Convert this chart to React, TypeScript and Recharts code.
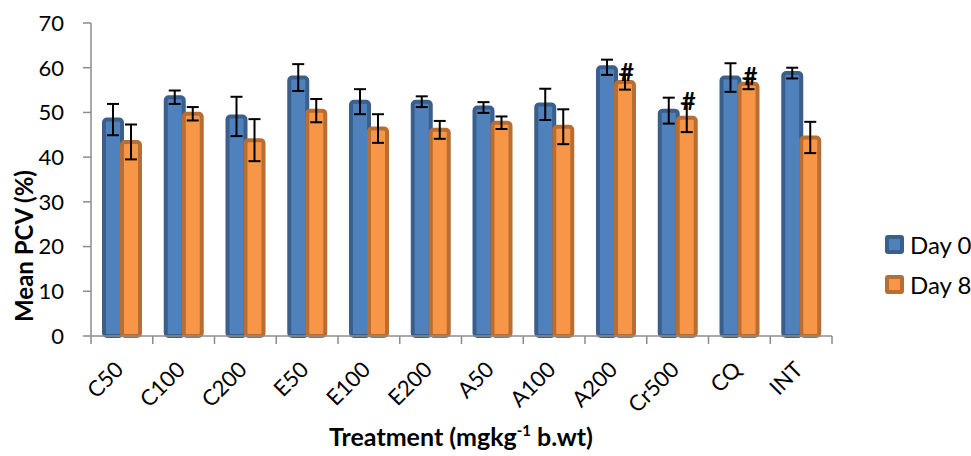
import React from "react";
import { BarChart, Bar, XAxis, YAxis, ErrorBar, Legend, LabelList, Label } from "recharts";

// treatments on the x axis
const treatments = ["C50", "C100", "C200", "E50", "E100", "E200", "A50", "A100", "A200", "Cr500", "CQ", "INT"];

// mean PCV (%) per group
const day0 = [48.4, 53.4, 49.1, 57.8, 52.4, 52.4, 51.1, 51.8, 60.1, 50.4, 57.8, 58.8];
const day0Err = [3.5, 1.5, 4.4, 3.0, 2.8, 1.2, 1.2, 3.5, 1.7, 2.9, 3.2, 1.2];
const day8 = [43.4, 49.7, 43.8, 50.4, 46.4, 46.1, 47.7, 46.8, 56.8, 48.8, 56.4, 44.4];
const day8Err = [3.9, 1.5, 4.7, 2.6, 3.2, 2.0, 1.4, 3.9, 1.7, 3.2, 1.2, 3.5];
const day8Mark = ["", "", "", "", "", "", "", "", "#", "#", "#", ""];

const yTicks = [0, 10, 20, 30, 40, 50, 60, 70];

const data = treatments.map((name, i) => ({
  name,
  day0: day0[i],
  err0: day0Err[i],
  day8: day8[i],
  err8: day8Err[i],
  mark: day8Mark[i],
}));

const W = 971;
const H = 456;
const LEGEND_W = 90;
// the legend box gets added to the right offset, so take it off here
const M = { top: 23, right: 139 - LEGEND_W, bottom: 0, left: 30 };
const Y_W = 61;
const PLOT_W = W - M.left - (M.right + LEGEND_W) - Y_W;
const BAND = PLOT_W / treatments.length;
const AXIS = "#8c8c8c";

const BLUE = "#4F81BD";
const BLUE_DARK = "#3A5F8B";
const ORANGE = "#F79646";
const ORANGE_DARK = "#B86D32";

function XTick(props: any) {
  const { x, y, payload, index } = props;
  const last = index === treatments.length - 1;
  const tx = x + 3;
  const ty = y + 35;
  return (
    <g>
      <line x1={x - BAND / 2} y1={y} x2={x - BAND / 2} y2={y + 8} stroke={AXIS} strokeWidth={1.5} />
      {last && <line x1={x + BAND / 2} y1={y} x2={x + BAND / 2} y2={y + 8} stroke={AXIS} strokeWidth={1.5} />}
      <text x={tx} y={ty} transform={`rotate(-45, ${tx}, ${ty})`} textAnchor="end" fontSize={22} fill="#000">
        {payload.value}
      </text>
    </g>
  );
}

function renderMark(props: any) {
  const { x, y, width, height, value, index } = props;
  if (!value) return null;
  const unit = height / day8[index];
  const errTop = y - day8Err[index] * unit;
  return (
    <text x={x + width / 2 + 2} y={errTop + 7} textAnchor="middle" fontSize={24} fontWeight="bold" fill="#000">
      {value}
    </text>
  );
}

const legendItems = [
  { label: "Day 0", fill: BLUE, stroke: BLUE_DARK },
  { label: "Day 8", fill: ORANGE, stroke: ORANGE_DARK },
];

function renderLegend() {
  return (
    <div>
      {legendItems.map((it) => (
        <div key={it.label} style={{ display: "flex", alignItems: "center", height: 40 }}>
          <span
            style={{
              width: 11,
              height: 11,
              background: it.fill,
              border: `4px solid ${it.stroke}`,
              borderRadius: 3,
              marginRight: 6,
            }}
          />
          <span style={{ fontSize: 24, color: "#000" }}>{it.label}</span>
        </div>
      ))}
    </div>
  );
}

export default function App() {
  return (
    <div style={{ position: "absolute", left: 0, top: 0, width: W, height: H, background: "#fff", fontFamily: "Lato" }}>
      <BarChart width={W} height={H} data={data} margin={M} barGap={0}>
        <XAxis
          dataKey="name"
          height={120}
          interval={0}
          tickSize={0}
          tickMargin={0}
          tickLine={false}
          axisLine={{ stroke: AXIS, strokeWidth: 1.5 }}
          tick={<XTick />}
        >
          <Label
            content={() => (
              <text x={461} y={446} textAnchor="middle" fontSize={25} fontWeight="bold" fill="#000">
                Treatment (mgkg
                <tspan dy={-10} fontSize={15}>-1</tspan>
                <tspan dy={10}> b.wt)</tspan>
              </text>
            )}
          />
        </XAxis>
        <YAxis
          width={Y_W}
          domain={[0, 70]}
          ticks={yTicks}
          interval={0}
          tickSize={8}
          tickMargin={19}
          tickLine={{ stroke: AXIS, strokeWidth: 1.5 }}
          axisLine={{ stroke: AXIS, strokeWidth: 1.5 }}
          tick={{ fontSize: 22, fill: "#000" }}
        >
          <Label
            content={() => (
              <text
                x={33}
                y={246}
                transform="rotate(-90, 33, 246)"
                textAnchor="middle"
                fontSize={24}
                fontWeight="bold"
                fill="#000"
              >
                Mean PCV (%)
              </text>
            )}
          />
        </YAxis>
        <Legend
          layout="vertical"
          verticalAlign="top"
          align="right"
          wrapperStyle={{ left: 885, top: 224, width: LEGEND_W }}
          content={renderLegend}
        />
        <Bar dataKey="day0" name="Day 0" barSize={18} fill={BLUE} stroke={BLUE_DARK} strokeWidth={4} radius={3} isAnimationActive={false}>
          <ErrorBar dataKey="err0" width={6} strokeWidth={2} stroke="#000" />
        </Bar>
        <Bar dataKey="day8" name="Day 8" barSize={18} fill={ORANGE} stroke={ORANGE_DARK} strokeWidth={4} radius={3} isAnimationActive={false}>
          <ErrorBar dataKey="err8" width={6} strokeWidth={2} stroke="#000" />
          <LabelList dataKey="mark" content={renderMark} />
        </Bar>
      </BarChart>
    </div>
  );
}
